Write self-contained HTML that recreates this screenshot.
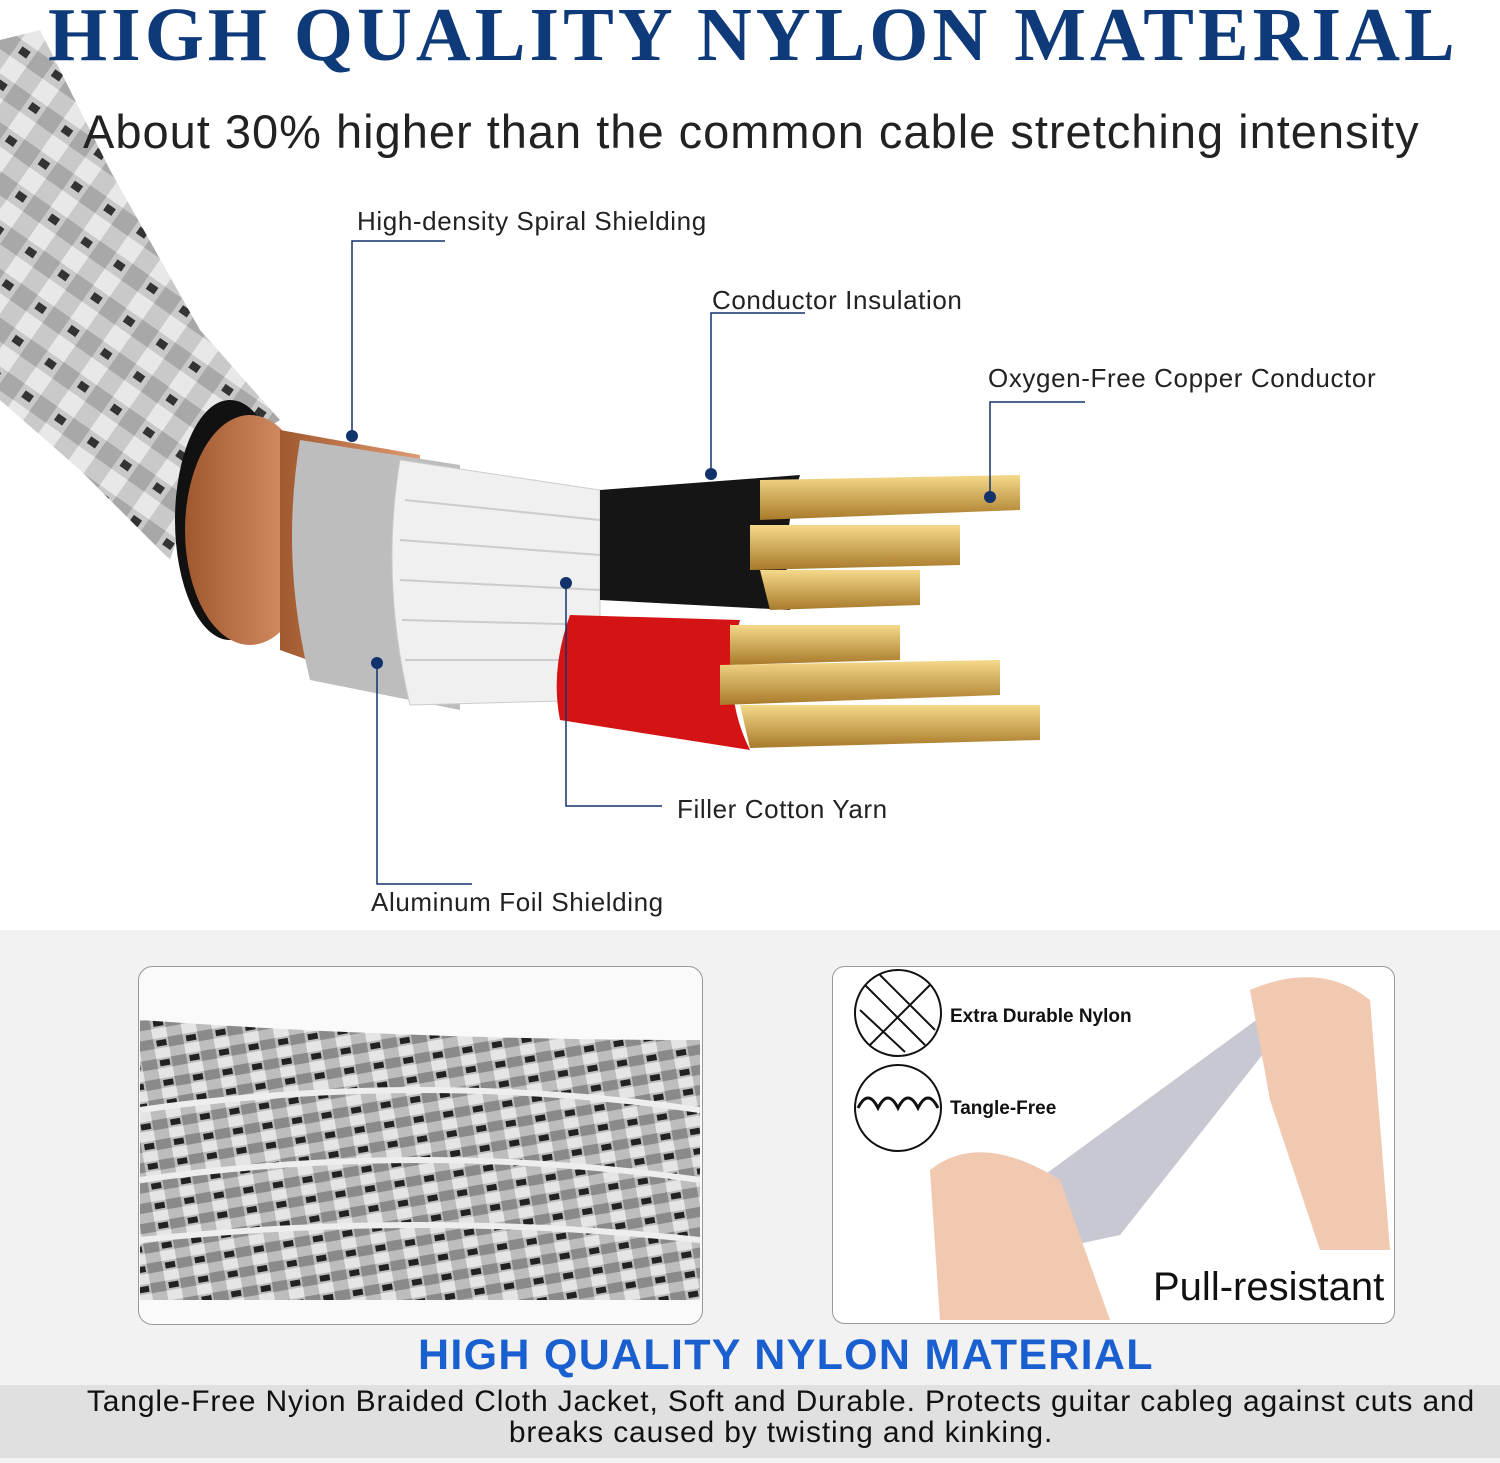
<!DOCTYPE html>
<html><head><meta charset="utf-8"><style>
body{margin:0;width:1500px;height:1463px;position:relative;background:#fff;overflow:hidden;font-family:"Liberation Sans",sans-serif}
.t{position:absolute;white-space:nowrap}
.l{font-size:26px;color:#222;letter-spacing:0.6px}
</style></head><body>
<svg width="1500" height="1463" style="position:absolute;left:0;top:0">
<defs>
<pattern id="br" width="40" height="40" patternUnits="userSpaceOnUse" patternTransform="rotate(35)">
<rect width="40" height="40" fill="#c9c9c9"/><rect width="20" height="20" fill="#e8e8e8"/><rect x="20" y="20" width="20" height="20" fill="#a8a8a8"/><rect x="5" y="25" width="10" height="8" fill="#333"/>
</pattern>
<pattern id="br2" width="30" height="20" patternUnits="userSpaceOnUse" patternTransform="rotate(-10)">
<rect width="30" height="20" fill="#bdbdbd"/><rect width="15" height="10" fill="#e5e5e5"/><rect x="15" y="10" width="15" height="10" fill="#8a8a8a"/><rect x="3" y="12" width="10" height="6" fill="#222"/>
</pattern>
<linearGradient id="cu" x1="0" y1="0" x2="1" y2="0"><stop offset="0" stop-color="#a0582f"/><stop offset="1" stop-color="#e09a70"/></linearGradient>
<linearGradient id="gd" x1="0" y1="0" x2="0" y2="1"><stop offset="0" stop-color="#f5d98a"/><stop offset="1" stop-color="#a87a2a"/></linearGradient>
</defs>
<rect x="0" y="930" width="1500" height="533" fill="#f2f2f2"/>
<path d="M0,40 L40,30 L110,170 L200,330 L280,420 L200,470 L170,560 L80,470 L0,400 Z" fill="url(#br)"/>
<ellipse cx="230" cy="520" rx="55" ry="120" fill="#111"/>
<ellipse cx="250" cy="530" rx="65" ry="115" fill="url(#cu)"/>
<path d="M280,430 L420,455 L420,700 L280,650 Z" fill="url(#cu)"/>
<path d="M300,440 L460,465 L460,710 L310,680 Q280,560 300,440Z" fill="#bdbdbd"/>
<path d="M400,460 L600,490 L600,700 L410,705 Q380,580 400,460Z" fill="#f0f0f0" stroke="#ccc"/>
<g stroke="#ccc" stroke-width="2"><line x1="405" y1="500" x2="600" y2="520"/><line x1="400" y1="540" x2="600" y2="555"/><line x1="400" y1="580" x2="600" y2="590"/><line x1="402" y1="620" x2="600" y2="625"/><line x1="405" y1="660" x2="600" y2="660"/></g>
<path d="M600,490 L800,475 Q780,540 790,610 L600,600 Z" fill="#151515"/>
<path d="M570,615 L740,620 Q720,690 750,750 L560,720 Q550,670 570,615Z" fill="#d41414"/>
<g fill="url(#gd)">
<path d="M760,480 L1020,475 L1020,510 L760,520Z"/><path d="M750,525 L960,525 L960,565 L750,570Z"/><path d="M760,570 L920,570 L920,605 L770,610Z"/>
<path d="M730,625 L900,625 L900,660 L730,665Z"/><path d="M720,665 L1000,660 L1000,695 L720,705Z"/><path d="M740,705 L1040,705 L1040,740 L750,748Z"/>
</g>
<g stroke="#12326b" stroke-width="1.5" fill="none">
<polyline points="445,241 352,241 352,436"/><polyline points="805,313 711,313 711,474"/><polyline points="1085,402 990,402 990,497"/>
<polyline points="662,806 566,806 566,583"/><polyline points="472,884 377,884 377,663"/>
</g>
<g fill="#12326b"><circle cx="352" cy="436" r="6"/><circle cx="711" cy="474" r="6"/><circle cx="990" cy="497" r="6"/><circle cx="566" cy="583" r="6"/><circle cx="377" cy="663" r="6"/></g>
<rect x="138.5" y="966.5" width="564" height="358" rx="14" fill="#fafafa" stroke="#999"/>
<path d="M140,1020 Q420,1040 700,1040 L700,1300 L140,1300 Z" fill="url(#br2)"/>
<g stroke="#eee" stroke-width="6" fill="none"><path d="M140,1110 Q420,1070 700,1110"/><path d="M140,1180 Q420,1140 700,1180"/><path d="M140,1240 Q420,1210 700,1240"/></g>
<rect x="832.5" y="966.5" width="562" height="357" rx="12" fill="#fff" stroke="#999"/>
<circle cx="898" cy="1013" r="43" fill="none" stroke="#111" stroke-width="2"/>
<g stroke="#111" stroke-width="2"><line x1="865" y1="985" x2="925" y2="1045"/><line x1="880" y1="975" x2="935" y2="1030"/><line x1="860" y1="1010" x2="905" y2="1052"/><line x1="930" y1="985" x2="870" y2="1045"/></g>
<circle cx="898" cy="1108" r="43" fill="none" stroke="#111" stroke-width="2"/>
<path d="M858,1108 q10,-20 20,0 q10,-20 20,0 q10,-20 20,0 q10,-20 20,0" fill="none" stroke="#111" stroke-width="3"/>
<path d="M1010,1200 L1270,1010 L1300,1000 L1290,1020 L1120,1235 L1050,1250Z" fill="#b0b0c0" opacity=".7"/>
<path d="M930,1170 Q980,1130 1060,1180 L1110,1320 L940,1320 Z" fill="#f1c8b0"/>
<path d="M1250,990 Q1320,960 1370,1000 L1390,1250 L1320,1250 L1270,1100 Z" fill="#f1c8b0"/>
</svg>
<div class="t" style="left:48px;top:-8px;font:bold 76px 'Liberation Serif',serif;color:#0e3a7a;letter-spacing:4px">HIGH QUALITY NYLON MATERIAL</div>
<div class="t" style="left:83px;top:104px;font-size:47px;color:#222;letter-spacing:1px">About 30% higher than the common cable stretching intensity</div>
<div class="t l" style="left:357px;top:206px">High-density Spiral Shielding</div>
<div class="t l" style="left:712px;top:285px">Conductor Insulation</div>
<div class="t l" style="left:988px;top:363px">Oxygen-Free Copper Conductor</div>
<div class="t l" style="left:677px;top:794px">Filler Cotton Yarn</div>
<div class="t l" style="left:371px;top:887px">Aluminum Foil Shielding</div>
<div class="t" style="left:950px;top:1006px;font:bold 19px 'Liberation Sans',sans-serif;color:#111">Extra Durable Nylon</div>
<div class="t" style="left:950px;top:1098px;font:bold 19px 'Liberation Sans',sans-serif;color:#111">Tangle-Free</div>
<div class="t" style="left:1153px;top:1265px;font-size:40px;color:#111">Pull-resistant</div>
<div class="t" style="left:418px;top:1331px;font:bold 43px 'Liberation Sans',sans-serif;color:#1a5fd0;letter-spacing:1.3px">HIGH QUALITY NYLON MATERIAL</div>
<div style="position:absolute;left:0;top:1385px;width:1500px;height:73px;background:#e0e0e0"></div>
<div class="t" style="left:0;width:1562px;text-align:center;top:1386px;font-size:30px;line-height:31px;color:#111;letter-spacing:0.85px">Tangle-Free Nyion Braided Cloth Jacket, Soft and Durable. Protects guitar cableg against cuts and<br>breaks caused by twisting and kinking.</div>
</body></html>
